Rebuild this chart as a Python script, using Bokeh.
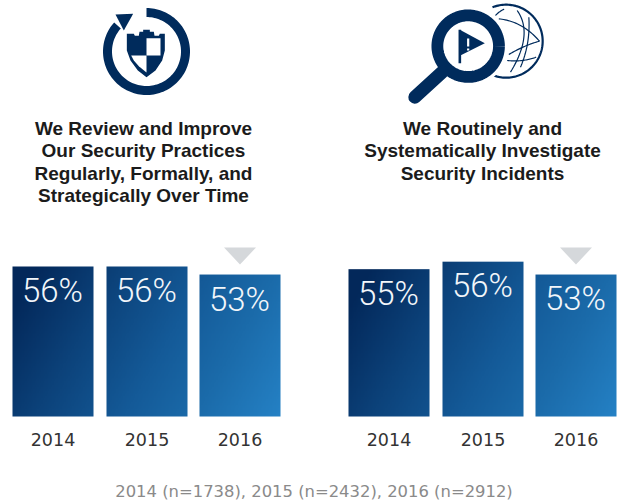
import numpy as np
from bokeh.plotting import figure
from bokeh.models import Range1d
from bokeh.core.properties import value
from bokeh.embed import file_html
from bokeh.resources import INLINE

# ---------- data ----------
years = ["2014", "2015", "2016"]
left_labels = ["56%", "56%", "53%"]
right_labels = ["55%", "56%", "53%"]
left_values = [56.0, 56.0, 53.0]
right_values = [55.0, 57.8, 53.0]   # bar lengths as drawn in the picture
left_title = ["We Review and Improve", "Our Security Practices",
              "Regularly, Formally, and", "Strategically Over Time"]
right_title = ["We Routinely and", "Systematically Investigate", "Security Incidents"]
footnote = "2014 (n=1738), 2015 (n=2432), 2016 (n=2912)"

# ---------- layout / style ----------
NAVY = "#002b5c"
W, H = 618, 504
BASE_PX = 416.0
PX_PER_UNIT = 150 / 56.0

p = figure(width=W, height=H, toolbar_location=None, output_backend="svg",
           min_border=0, outline_line_color=None,
           x_range=Range1d(0, W),
           y_range=Range1d((BASE_PX - H) / PX_PER_UNIT, BASE_PX / PX_PER_UNIT))
p.axis.visible = False
p.grid.visible = False
p.extra_y_ranges["px"] = Range1d(H, 0)
PX = dict(y_range_name="px")


def gradient(x0, w, y_top, panel_x0):
    """RGBA gradient tile for a bar (top-left dark, bottom-right light)."""
    nx, ny = 60, 80
    xs = np.linspace(x0, x0 + w, nx)
    ys = np.linspace(BASE_PX, y_top, ny)  # row 0 = bottom
    X, Y = np.meshgrid(xs, ys)
    t = np.clip(((X - panel_x0) * 0.0028 + (Y - 266) * 0.0016), 0, 1)
    stops_t = [0.0, 0.06, 0.3, 0.55, 0.75, 1.0]
    r = np.interp(t, stops_t, [0x03, 0x03, 0x0c, 0x14, 0x1b, 0x25])
    g = np.interp(t, stops_t, [0x28, 0x28, 0x42, 0x5a, 0x6b, 0x82])
    b = np.interp(t, stops_t, [0x5a, 0x5a, 0x7a, 0x98, 0xaa, 0xc6])
    img = np.empty((ny, nx), dtype=np.uint32)
    view = img.view(dtype=np.uint8).reshape((ny, nx, 4))
    view[..., 0] = r
    view[..., 1] = g
    view[..., 2] = b
    view[..., 3] = 255
    return img


LABEL_FONT = value("Roboto Light")


def panel(x0, step_list, values, labels, label_dy, centre, title_lines):
    bw = 81
    for i, v in enumerate(values):
        x = x0 + step_list[i]
        top_px = BASE_PX - v * PX_PER_UNIT
        p.image_rgba(image=[gradient(x, bw, top_px, x0)], x=x, y=0, dw=bw, dh=v)
        p.text(x=[x + bw / 2 - 0.5], y=[top_px + label_dy[i]], text=[labels[i]], y_range_name="px",
               text_align="center", text_baseline="middle", text_font=LABEL_FONT,
               text_font_size="33px", text_color="#f2f6fa")
        p.text(x=[x + bw / 2], y=[439], text=[years[i]], y_range_name="px",
               text_align="center", text_baseline="middle", text_font=value("DejaVu Sans"),
               text_font_size="17.5px", text_color="#333333")
    tx = x0 + step_list[2] + bw / 2
    p.patch([tx - 16, tx + 16, tx], [247, 247, 264], fill_color="#d5d8db", line_color=None, **PX)
    p.text(x=[centre] * len(title_lines), y=[128 + 22.3 * k for k in range(len(title_lines))],
           text=title_lines, y_range_name="px", text_align="center", text_baseline="middle",
           text_font=value("Liberation Sans"), text_font_style="bold",
           text_font_size="19px", text_color="#1b1b1b")


panel(12, [0, 94, 187], left_values, left_labels, [24, 24, 25], 143, left_title)
panel(348, [0, 94, 187], right_values, right_labels, [24, 24, 24], 482, right_title)

p.text(x=[313.5], y=[491], text=[footnote], y_range_name="px", text_align="center",
       text_baseline="middle", text_font=value("DejaVu Sans"), text_font_size="16.4px",
       text_color="#8a8a8a")


# ---------- icons ----------
def ring(cx, cy, r0, r1, a0, a1, n=120):
    a = np.radians(np.linspace(a0, a1, n))
    xs = np.concatenate([cx + r1 * np.cos(a), cx + r0 * np.cos(a[::-1])])
    ys = np.concatenate([cy - r1 * np.sin(a), cy - r0 * np.sin(a[::-1])])
    return xs, ys


def zl(pts):  # left icon sketch coordinates
    return [80 + a / 3 for a, _ in pts], [b / 3 for _, b in pts]


def zr(pts):  # right icon sketch coordinates
    return [395 + a / 3 for a, _ in pts], [b / 3 for _, b in pts]


# shield icon
xs, ys = ring(146, 51, 34.5, 43.5, 90, -222)
p.patch(xs, ys, fill_color=NAVY, line_color=None, **PX)
xs, ys = zl([(105, 42), (158, 40), (130, 90)])
p.patch(xs, ys, fill_color=NAVY, line_color=None, **PX)
shield = [(139, 100), (160, 100), (163, 106), (175, 106), (177, 94), (188, 94), (188, 88),
          (208, 88), (208, 94), (220, 94), (222, 106), (235, 106), (238, 100), (253, 100),
          (253, 150), (245, 180), (225, 210), (198, 230), (172, 210), (150, 180), (139, 150)]
xs, ys = zl(shield)
p.patch(xs, ys, fill_color=NAVY, line_color=None, **PX)
for q in ([(198, 113), (240, 113), (240, 165), (198, 165)],
          [(152, 165), (198, 165), (198, 216), (175, 197), (160, 180)]):
    xs, ys = zl(q)
    p.patch(xs, ys, fill_color="white", line_color=None, **PX)

# globe (behind lens)
gx, gy = zr([(332, 122)])
xs_a = np.radians(np.linspace(-118, 112, 100))
p.line(gx[0] + 36.5 * np.cos(xs_a), gy[0] - 36.5 * np.sin(xs_a), line_color=NAVY, line_width=2.2, **PX)
curves = [[(300, 45), (312, 32), (326, 26)],
          [(310, 55), (380, 62), (432, 122)],
          [(365, 30), (415, 100), (345, 215)],
          [(400, 50), (405, 130), (375, 200)],
          [(432, 122), (385, 135), (340, 162)],
          [(335, 180), (380, 185), (422, 170)]]
for c in curves:
    xs, ys = zr(c)
    t = np.linspace(0, 1, 30)
    cxv = (1 - t) ** 2 * xs[0] + 2 * t * (1 - t) * xs[1] + t ** 2 * xs[2]
    cyv = (1 - t) ** 2 * ys[0] + 2 * t * (1 - t) * ys[1] + t ** 2 * ys[2]
    p.line(cxv, cyv, line_color=NAVY, line_width=1.2, **PX)

# magnifier
lx, ly = zr([(218, 137)])
lx, ly = lx[0], ly[0]
xs, ys = ring(lx, ly, 0, 40, 0, 360)
p.patch(xs, ys, fill_color="white", line_color=None, **PX)
xa = np.radians(np.linspace(0, 360, 160))
p.line(lx + 30.8 * np.cos(xa), ly + 30.8 * np.sin(xa), line_color=NAVY, line_width=11.8, **PX)
xs, ys = zr([(140, 215), (58, 290)])
p.line(xs, ys, line_color=NAVY, line_width=13, line_cap="round", **PX)
xs, ys = zr([(193, 88), (193, 188)])
p.line(xs, ys, line_color=NAVY, line_width=2.6, **PX)
xs, ys = zr([(193, 88), (268, 128), (193, 166)])
p.patch(xs, ys, fill_color=NAVY, line_color=None, **PX)
xs, ys = zr([(218, 114), (218, 138)])
p.line(xs, ys, line_color="white", line_width=2.2, **PX)
xs, ys = zr([(218, 144), (218, 150)])
p.line(xs, ys, line_color="white", line_width=2.2, **PX)

open("out.html", "w").write(file_html(p, INLINE))
